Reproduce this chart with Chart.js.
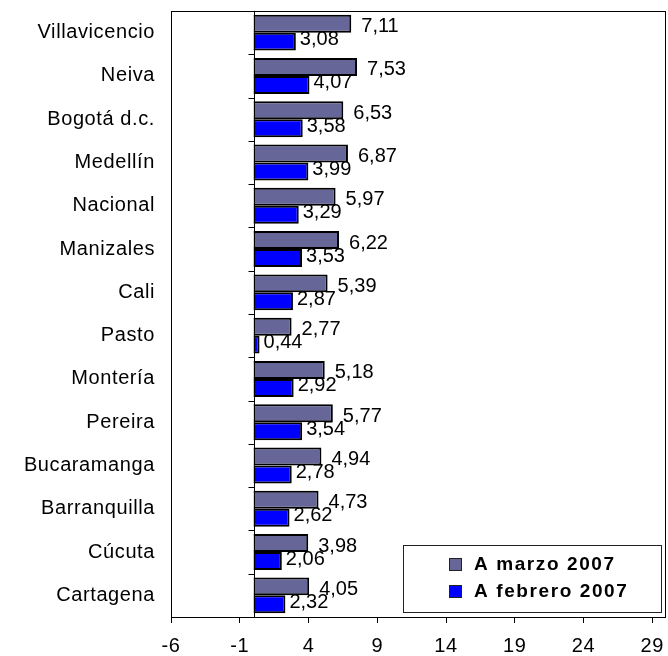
<!DOCTYPE html>
<html>
<head>
<meta charset="utf-8">
<script src="https://cdn.jsdelivr.net/npm/chart.js@4/dist/chart.umd.min.js"></script>
<style>
  html, body { margin: 0; padding: 0; background: #ffffff; }
  canvas { display: block; }
</style>
</head>
<body>
<canvas id="c" width="668" height="656"></canvas>
<script>
const categories = ['Villavicencio','Neiva','Bogotá d.c.','Medellín','Nacional','Manizales','Cali','Pasto','Montería','Pereira','Bucaramanga','Barranquilla','Cúcuta','Cartagena'];
const marzo2007 = [7.11,7.53,6.53,6.87,5.97,6.22,5.39,2.77,5.18,5.77,4.94,4.73,3.98,4.05];
const febrero2007 = [3.08,4.07,3.58,3.99,3.29,3.53,2.87,0.44,2.92,3.54,2.78,2.62,2.06,2.32];
const seriesNames = ['A marzo 2007','A febrero 2007'];
const xTickValues = [-6,-1,4,9,14,19,24,29];
const xMin = -6, xMax = 30;

const FONT = '"Liberation Sans", Arial, sans-serif';

const spacingPlugin = {
  id: 'spacing',
  beforeDraw(chart) { try { chart.ctx.letterSpacing = '0.6px'; } catch (e) {} }
};

const framePlugin = {
  id: 'frame',
  afterDraw(chart) {
    const ctx = chart.ctx, ca = chart.chartArea;
    const xs = chart.scales.x;
    ctx.save();
    try { ctx.letterSpacing = '0px'; } catch (e) {}
    ctx.strokeStyle = '#000';
    ctx.lineWidth = 1;
    ctx.strokeRect(Math.round(ca.left) + 0.5, Math.round(ca.top) + 0.5,
                   Math.round(ca.right - ca.left) - 1, Math.round(ca.bottom - ca.top));
    const x0 = Math.round(xs.getPixelForValue(0)) + 0.5;
    ctx.beginPath();
    ctx.moveTo(x0, ca.top);
    ctx.lineTo(x0, ca.bottom);
    const n = categories.length;
    const band = (ca.bottom - ca.top) / n;
    for (let i = 1; i < n; i++) {
      const y = Math.round(ca.top + band * i) + 0.5;
      ctx.moveTo(x0 - 6, y);
      ctx.lineTo(x0, y);
    }
    ctx.stroke();

    ctx.fillStyle = '#000';
    ctx.font = '20px ' + FONT;
    ctx.textAlign = 'left';
    ctx.textBaseline = 'middle';
    chart.data.datasets.forEach((ds, di) => {
      const meta = chart.getDatasetMeta(di);
      meta.data.forEach((bar, i) => {
        const v = ds.data[i];
        const txt = v.toFixed(2).replace('.', ',');
        const off = di === 0 ? 10 : 4;
        ctx.fillText(txt, bar.x + off, bar.y + (di === 0 ? 3 : -2));
      });
    });

    const w = 258, h = 67;
    const lx = Math.round(ca.right) - 5 - w;
    const ly = Math.round(ca.bottom) - 5 - h;
    ctx.fillStyle = '#fff';
    ctx.fillRect(lx, ly, w, h);
    ctx.strokeStyle = '#222';
    ctx.strokeRect(lx + 0.5, ly + 0.5, w, h);
    ctx.font = 'bold 19px ' + FONT;
    try { ctx.letterSpacing = '1.6px'; } catch (e) {}
    chart.data.datasets.forEach((ds, di) => {
      const cy = ly + 19 + di * 27;
      ctx.fillStyle = ds.backgroundColor;
      ctx.fillRect(lx + 46, cy - 6, 13, 13);
      ctx.strokeStyle = '#222';
      ctx.strokeRect(lx + 46.5, cy - 5.5, 12, 12);
      ctx.fillStyle = '#000';
      ctx.fillText(ds.label, lx + 71, cy + 1);
    });
    ctx.restore();
  }
};

new Chart(document.getElementById('c'), {
  type: 'bar',
  data: {
    labels: categories,
    datasets: [
      { label: seriesNames[0], data: marzo2007, backgroundColor: '#666699', borderColor: '#000', borderWidth: 2 },
      { label: seriesNames[1], data: febrero2007, backgroundColor: '#0000FF', borderColor: '#000', borderWidth: 2 }
    ]
  },
  options: {
    indexAxis: 'y',
    responsive: false,
    animation: false,
    layout: { padding: { top: 11, right: 2, left: 0, bottom: 0 } },
    datasets: { bar: { categoryPercentage: 0.83, barPercentage: 1.0 } },
    plugins: { legend: { display: false }, tooltip: { enabled: false } },
    scales: {
      x: {
        type: 'linear',
        min: xMin,
        max: xMax,
        afterBuildTicks(s) { s.ticks = xTickValues.map(v => ({ value: v })); },
        afterFit(s) { s.height = 39; s.paddingLeft = 0; s.paddingRight = 0; },
        border: { display: false },
        grid: { display: true, drawOnChartArea: false, drawTicks: true, tickLength: 6, color: '#000', lineWidth: 1 },
        ticks: { color: '#000', font: { family: FONT, size: 20 }, padding: 11, maxRotation: 0, autoSkip: false,
                 callback: (v) => String(v) }
      },
      y: {
        type: 'category',
        afterFit(s) { s.width = 171; s.paddingTop = 0; s.paddingBottom = 0; },
        border: { display: false },
        grid: { display: false, drawTicks: false },
        ticks: { color: '#000', font: { family: FONT, size: 20 }, padding: 16, autoSkip: false }
      }
    }
  },
  plugins: [spacingPlugin, framePlugin]
});
</script>
</body>
</html>
